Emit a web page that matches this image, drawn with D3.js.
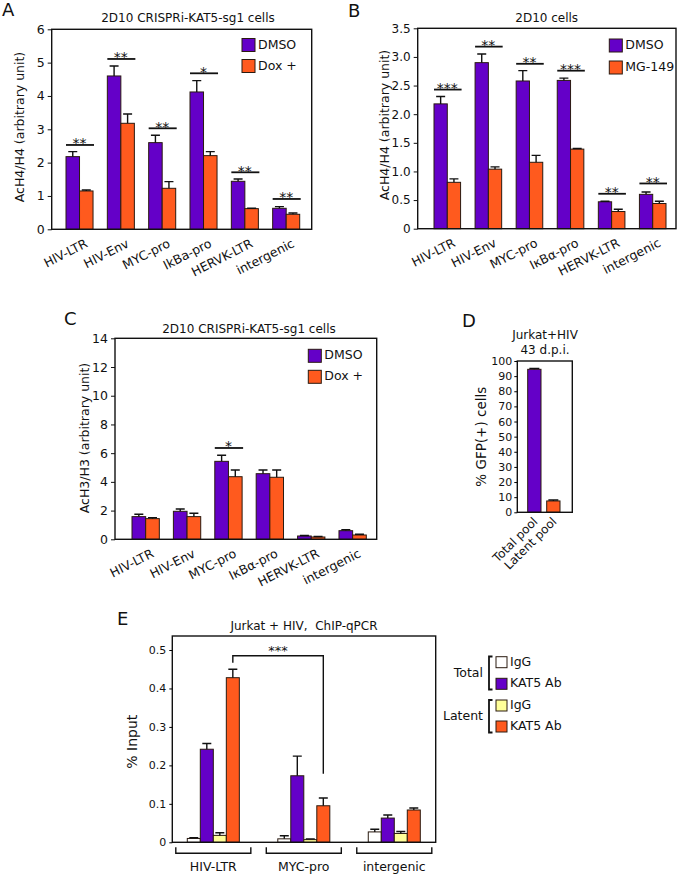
<!DOCTYPE html>
<html><head><meta charset="utf-8">
<script src="https://cdn.jsdelivr.net/npm/d3@7"></script>
<style>
body{margin:0;background:#fff;}
svg text{font-family:"DejaVu Sans",Verdana,sans-serif;fill:#111;}
</style></head>
<body><svg id="c" width="680" height="874"></svg>
<script>
// ---------- DATA ----------
const groupsA = ["HIV-LTR","HIV-Env","MYC-pro","IkBa-pro","HERVK-LTR","intergenic"];
const seriesA = ["DMSO","Dox +"];
const dmsoA = [2.18,4.60,2.60,4.12,1.44,0.63];
const dmsoA_se = [0.15,0.30,0.22,0.34,0.07,0.05];
const doxA = [1.15,3.18,1.23,2.21,0.62,0.45];
const doxA_se = [0.03,0.28,0.20,0.12,0.01,0.04];
const sigA_y = [2.53,5.11,3.03,4.68,1.71,0.91];
const sigA_lab = ["**","**","**","*","**","**"];
const ticksA = [0,1,2,3,4,5,6];

const groupsB = ["HIV-LTR","HIV-Env","MYC-pro","I\u03baB\u03b1-pro","HERVK-LTR","intergenic"];
const seriesB = ["DMSO","MG-149"];
const dmsoB = [2.18,2.90,2.58,2.59,0.47,0.60];
const dmsoB_se = [0.13,0.15,0.18,0.04,0.01,0.04];
const mgB = [0.81,1.04,1.16,1.39,0.30,0.44];
const mgB_se = [0.06,0.04,0.12,0.01,0.04,0.04];
const sigB_y = [2.43,3.18,2.88,2.76,0.61,0.79];
const sigB_lab = ["***","**","**","***","**","**"];
const ticksB = [0,0.5,1.0,1.5,2.0,2.5,3.0,3.5];

const groupsC = ["HIV-LTR","HIV-Env","MYC-pro","I\u03baB\u03b1-pro","HERVK-LTR","intergenic"];
const seriesC = ["DMSO","Dox +"];
const dmsoC = [1.58,1.95,5.43,4.57,0.23,0.60];
const dmsoC_se = [0.16,0.16,0.42,0.26,0.03,0.07];
const doxC = [1.44,1.58,4.36,4.32,0.16,0.30];
const doxC_se = [0.07,0.23,0.47,0.51,0.04,0.05];
const sigC_y = [null,null,6.36,null,null,null];
const sigC_lab = [null,null,"*",null,null,null];
const ticksC = [0,2,4,6,8,10,12,14];

const groupsD = ["Total pool","Latent pool"];
const valuesD = [94.5,7.5];
const seD = [0.6,0.6];
const ticksD = [0,10,20,30,40,50,60,70,80,90,100];

const groupsE = ["HIV-LTR","MYC-pro","intergenic"];
const seriesE = ["Total IgG","Total KAT5 Ab","Latent IgG","Latent KAT5 Ab"];
const totIgG = [0.010,0.009,0.027];
const totIgG_se = [0.002,0.008,0.007];
const totKAT5 = [0.242,0.173,0.063];
const totKAT5_se = [0.015,0.051,0.008];
const latIgG = [0.018,0.007,0.023];
const latIgG_se = [0.007,0.002,0.005];
const latKAT5 = [0.428,0.095,0.084];
const latKAT5_se = [0.022,0.020,0.005];
const ticksE = [0,0.1,0.2,0.3,0.4,0.5];
const sigE = {level:0.485, leftEnd:0.467, rightEnd:0.178, label:"***"};

// ---------- STYLE ----------
const PURPLE = "#6400c8", ORANGE = "#ff5a1e", YELLOW = "#ffff99", WHITE = "#ffffff";
const STROKE = "#2a1a10";
const svg = d3.select("#c");

function fmtTick(step){ return v => v===0 ? "0" : (step<1 ? d3.format(".1f")(v) : d3.format("d")(v)); }

function drawPanel(o){
  const g = svg.append("g");
  const y = d3.scaleLinear().domain(o.yDomain).range([o.box.b, o.box.t]);
  const x0 = d3.scaleBand().domain(o.groups).range(o.band).paddingInner(o.padInner).paddingOuter(0);
  const x1 = d3.scaleBand().domain(o.series.map(s=>s.name)).range([0, x0.bandwidth()]);
  o.series.forEach(s=>{
    const sg = g.append("g");
    const data = o.groups.map((k,i)=>({k,v:s.values[i],e:s.se[i]}));
    sg.selectAll("rect").data(data).join("rect")
      .attr("x", d=>x0(d.k)+x1(s.name)).attr("y", d=>y(d.v))
      .attr("width", x1.bandwidth()).attr("height", d=>y(0)-y(d.v))
      .attr("fill", s.color).attr("stroke", STROKE).attr("stroke-width",1);
    const cw = o.capW || 9;
    sg.selectAll("path").data(data).join("path")
      .attr("d", d=>{const cx=x0(d.k)+x1(s.name)+x1.bandwidth()/2; const yt=y(d.v+d.e);
        return `M${cx},${y(d.v)}V${yt}M${cx-cw/2},${yt}H${cx+cw/2}`;})
      .attr("stroke","#111").attr("stroke-width",1.4).attr("fill","none");
  });
  g.append("rect").attr("x",o.box.l).attr("y",o.box.t).attr("width",o.box.r-o.box.l).attr("height",o.box.b-o.box.t)
    .attr("fill","none").attr("stroke","#111").attr("stroke-width",1.4);
  const ax = d3.axisLeft(y).tickValues(o.ticks).tickFormat(o.tickFmt).tickSize(4).tickPadding(3);
  const ag = g.append("g").attr("transform",`translate(${o.box.l},0)`).call(ax);
  ag.select(".domain").remove();
  ag.selectAll("line").attr("stroke","#111");
  ag.selectAll("text").style("font-size",(o.tickFs||12.5)+"px").attr("fill","#111");
  g.append("text").attr("transform",`translate(${o.ylab.x},${o.ylab.y}) rotate(-90)`)
    .attr("text-anchor","middle").attr("dominant-baseline","middle").style("font-size",(o.ylabFs||12.5)+"px").text(o.ylab.text);
  o.title.lines.forEach((t,i)=>g.append("text").attr("x",o.title.x).attr("y",o.title.y+i*15)
    .attr("text-anchor","middle").style("font-size","12px").text(t));
  g.append("text").attr("x",o.letter.x).attr("y",o.letter.y).style("font-size","18px").text(o.letter.t);
  return {g,x0,x1,y};
}

function xLabels(p,o,angle,dx,dy,fs){
  p.g.selectAll("text.xl").data(o.groups).join("text").attr("class","xl")
    .attr("transform",d=>`translate(${p.x0(d)+p.x0.bandwidth()/2+dx},${o.box.b+dy}) rotate(${angle})`)
    .attr("text-anchor","end").style("font-size",fs+"px").text(d=>d);
}

function sigs(p,o,ys,labs){
  o.groups.forEach((k,i)=>{
    if(ys[i]==null) return;
    const yy = p.y(ys[i]);
    p.g.append("line").attr("x1",p.x0(k)).attr("x2",p.x0(k)+p.x0.bandwidth()+1).attr("y1",yy).attr("y2",yy)
      .attr("stroke","#111").attr("stroke-width",1.8);
    p.g.append("text").attr("x",p.x0(k)+p.x0.bandwidth()/2).attr("y",yy+3.5).attr("text-anchor","middle")
      .style("font-size","14px").text(labs[i]);
  });
}

function legend(g,items,x,y0,gap){
  items.forEach((it,i)=>{
    g.append("rect").attr("x",x).attr("y",y0+i*gap).attr("width",13).attr("height",13)
      .attr("fill",it.color).attr("stroke",STROKE).attr("stroke-width",1);
    g.append("text").attr("x",x+16).attr("y",y0+i*gap+6.5).attr("dominant-baseline","middle")
      .style("font-size","12.5px").text(it.name);
  });
}

// ---------- PANEL A ----------
const oA = {box:{l:51.7,r:311.7,t:29.3,b:229.3}, yDomain:[0,6], ticks:ticksA, tickFmt:fmtTick(1),
  band:[66,299.7], padInner:0.346, groups:groupsA,
  series:[{name:seriesA[0],values:dmsoA,se:dmsoA_se,color:PURPLE},{name:seriesA[1],values:doxA,se:doxA_se,color:ORANGE}],
  ylab:{x:20,y:127,text:"AcH4/H4 (arbitrary unit)"}, title:{x:188,y:22,lines:["2D10 CRISPRi-KAT5-sg1 cells"]},
  letter:{x:2,y:16,t:"A"}};
const pA = drawPanel(oA);
xLabels(pA,oA,-27,9,17,12.5);
sigs(pA,oA,sigA_y,sigA_lab);
legend(pA.g,[{name:seriesA[0],color:PURPLE},{name:seriesA[1],color:ORANGE}],242,38.5,21);

// ---------- PANEL B ----------
const oB = {box:{l:417.7,r:676,t:28.3,b:228.7}, yDomain:[0,3.5], ticks:ticksB, tickFmt:fmtTick(0.5), tickFs:12,
  band:[434,666], padInner:0.353, groups:groupsB,
  series:[{name:seriesB[0],values:dmsoB,se:dmsoB_se,color:PURPLE},{name:seriesB[1],values:mgB,se:mgB_se,color:ORANGE}],
  ylab:{x:385,y:125,text:"AcH4/H4 (arbitrary unit)"}, title:{x:546.7,y:22,lines:["2D10 cells"]},
  letter:{x:348,y:17,t:"B"}};
const pB = drawPanel(oB);
xLabels(pB,oB,-27,9,17,12.5);
sigs(pB,oB,sigB_y,sigB_lab);
legend(pB.g,[{name:seriesB[0],color:PURPLE},{name:seriesB[1],color:ORANGE}],609.3,39,22);

// ---------- PANEL C ----------
const oC = {box:{l:115,r:376.7,t:338.3,b:539.3}, yDomain:[0,14], ticks:ticksC, tickFmt:fmtTick(2),
  band:[132,366.3], padInner:0.34, groups:groupsC,
  series:[{name:seriesC[0],values:dmsoC,se:dmsoC_se,color:PURPLE},{name:seriesC[1],values:doxC,se:doxC_se,color:ORANGE}],
  ylab:{x:85,y:438,text:"AcH3/H3 (arbitrary unit)"}, title:{x:249,y:333,lines:["2D10 CRISPRi-KAT5-sg1 cells"]},
  letter:{x:64,y:325,t:"C"}};
const pC = drawPanel(oC);
xLabels(pC,oC,-27,9,17,12.5);
sigs(pC,oC,sigC_y,sigC_lab);
legend(pC.g,[{name:seriesC[0],color:PURPLE},{name:seriesC[1],color:ORANGE}],308.3,349.3,21);

// ---------- PANEL D ----------
(function(){
  const box={l:517.3,r:572.3,t:361,b:512.3};
  const g = svg.append("g");
  const y = d3.scaleLinear().domain([0,100]).range([box.b,box.t]);
  const x = d3.scaleBand().domain(groupsD).range([527.7,560]).paddingInner(0.3).paddingOuter(0);
  const cols=[PURPLE,ORANGE];
  g.selectAll("rect.b").data(groupsD).join("rect").attr("class","b")
    .attr("x",d=>x(d)).attr("y",(d,i)=>y(valuesD[i])).attr("width",x.bandwidth()).attr("height",(d,i)=>y(0)-y(valuesD[i]))
    .attr("fill",(d,i)=>cols[i]).attr("stroke",STROKE);
  g.selectAll("path.e").data(groupsD).join("path").attr("class","e")
    .attr("d",(d,i)=>{const cx=x(d)+x.bandwidth()/2, yt=y(valuesD[i]+seD[i]);return `M${cx},${y(valuesD[i])}V${yt}M${cx-5},${yt}H${cx+5}`;})
    .attr("stroke","#111").attr("stroke-width",1.4).attr("fill","none");
  g.append("rect").attr("x",box.l).attr("y",box.t).attr("width",box.r-box.l).attr("height",box.b-box.t)
    .attr("fill","none").attr("stroke","#111").attr("stroke-width",1.4);
  const ag=g.append("g").attr("transform",`translate(${box.l},0)`).call(d3.axisLeft(y).tickValues(ticksD).tickSize(3).tickPadding(2));
  ag.select(".domain").remove();
  ag.selectAll("text").style("font-size","11px");
  g.append("text").attr("transform",`translate(481.7,436.7) rotate(-90)`).attr("text-anchor","middle")
    .attr("dominant-baseline","middle").style("font-size","13.5px").text("% GFP(+) cells");
  ["Jurkat+HIV","43 d.p.i."].forEach((t,i)=>g.append("text").attr("x",545).attr("y",339+i*15).attr("text-anchor","middle").style("font-size","12px").text(t));
  g.append("text").attr("x",462).attr("y",327).style("font-size","18px").text("D");
  g.selectAll("text.xl").data(groupsD).join("text").attr("class","xl")
    .attr("transform",d=>`translate(${x(d)+x.bandwidth()/2+4},${box.b+10}) rotate(-45)`)
    .attr("text-anchor","end").style("font-size","12px").text(d=>d);
})();

// ---------- PANEL E ----------
(function(){
  const box={l:172.3,r:435.7,t:636,b:842.3};
  const g = svg.append("g");
  const y = d3.scaleLinear().domain([0,0.5]).range([box.b,650]);
  const x0 = d3.scaleBand().domain(groupsE).range([187.3,420.3]).paddingInner(0.425).paddingOuter(0);
  const x1 = d3.scaleBand().domain(seriesE).range([0,x0.bandwidth()]);
  const ser = [{n:seriesE[0],v:totIgG,e:totIgG_se,c:WHITE},{n:seriesE[1],v:totKAT5,e:totKAT5_se,c:PURPLE},
               {n:seriesE[2],v:latIgG,e:latIgG_se,c:YELLOW},{n:seriesE[3],v:latKAT5,e:latKAT5_se,c:ORANGE}];
  ser.forEach(s=>{
    const data = groupsE.map((k,i)=>({k,v:s.v[i],e:s.e[i]}));
    g.append("g").selectAll("rect").data(data).join("rect")
      .attr("x",d=>x0(d.k)+x1(s.n)).attr("y",d=>y(d.v)).attr("width",x1.bandwidth()).attr("height",d=>y(0)-y(d.v))
      .attr("fill",s.c).attr("stroke",STROKE);
    g.append("g").selectAll("path").data(data).join("path")
      .attr("d",d=>{const cx=x0(d.k)+x1(s.n)+x1.bandwidth()/2, yt=y(d.v+d.e);return `M${cx},${y(d.v)}V${yt}M${cx-4.5},${yt}H${cx+4.5}`;})
      .attr("stroke","#111").attr("stroke-width",1.4).attr("fill","none");
  });
  g.append("rect").attr("x",box.l).attr("y",box.t).attr("width",box.r-box.l).attr("height",box.b-box.t)
    .attr("fill","none").attr("stroke","#111").attr("stroke-width",1.4);
  const ag=g.append("g").attr("transform",`translate(${box.l},0)`)
    .call(d3.axisLeft(y).tickValues(ticksE).tickFormat(fmtTick(0.1)).tickSize(3).tickPadding(3));
  ag.select(".domain").remove();
  ag.selectAll("text").style("font-size","11px");
  g.append("text").attr("transform",`translate(133.3,741.7) rotate(-90)`).attr("text-anchor","middle")
    .attr("dominant-baseline","middle").style("font-size","14px").text("% Input");
  g.append("text").attr("x",304).attr("y",630).attr("text-anchor","middle").style("font-size","12px").text("Jurkat + HIV,\u00a0 ChIP-qPCR");
  g.append("text").attr("x",117).attr("y",625).style("font-size","18px").text("E");
  const lx = x0(groupsE[0])+x1(seriesE[3])+x1.bandwidth()/2, rx = x0(groupsE[1])+x1(seriesE[3])+x1.bandwidth()/2;
  g.append("path").attr("d",`M${lx},${y(sigE.leftEnd)}V${y(sigE.level)}H${rx}V${y(sigE.rightEnd)}`)
    .attr("fill","none").attr("stroke","#111").attr("stroke-width",1.4);
  g.append("text").attr("x",(lx+rx)/2).attr("y",y(sigE.level)-1).attr("text-anchor","middle").style("font-size","13px").text(sigE.label);
  groupsE.forEach(k=>{
    const a=x0(k)-11.5, b=x0(k)+x0.bandwidth()+11.5, yb=853.3;
    g.append("path").attr("d",`M${a},${yb-6}V${yb}H${b}V${yb-6}`).attr("fill","none").attr("stroke","#111").attr("stroke-width",1.4);
    g.append("text").attr("x",(a+b)/2).attr("y",871).attr("text-anchor","middle").style("font-size","12.5px").text(k);
  });
  const lg=[{n:"IgG",c:WHITE,y:656.7},{n:"KAT5 Ab",c:PURPLE,y:678.3},{n:"IgG",c:YELLOW,y:700},{n:"KAT5 Ab",c:ORANGE,y:721}];
  lg.forEach(it=>{
    g.append("rect").attr("x",496).attr("y",it.y).attr("width",11).attr("height",11).attr("fill",it.c).attr("stroke",STROKE);
    g.append("text").attr("x",510).attr("y",it.y+5.5).attr("dominant-baseline","middle").style("font-size","12.5px").text(it.n);
  });
  [["Total",656.5,689.5],["Latent",700,732.5]].forEach(([t,a,b])=>{
    g.append("path").attr("d",`M${492.5},${a}H${489}V${b}H${492.5}`).attr("fill","none").attr("stroke","#111").attr("stroke-width",1.8);
    g.append("text").attr("x",483).attr("y",(a+b)/2).attr("dominant-baseline","middle").attr("text-anchor","end").style("font-size","12.5px").text(t);
  });
})();
</script></body></html>
